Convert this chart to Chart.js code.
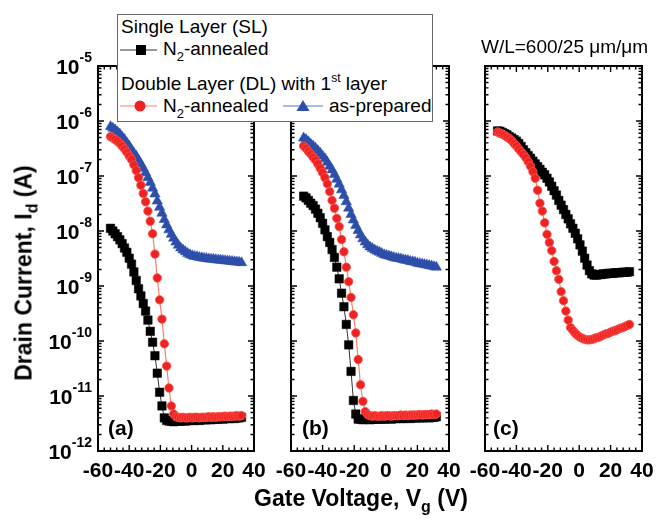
<!DOCTYPE html>
<html><head><meta charset="utf-8">
<script src="https://cdn.jsdelivr.net/npm/chart.js@4.4.1/dist/chart.umd.min.js"></script>
<style>
html,body{margin:0;padding:0;background:#fff;}
#wrap{position:relative;width:656px;height:521px;overflow:hidden;font-family:"Liberation Sans",Arial,sans-serif;color:#000;}
canvas{position:absolute;left:0;top:0;}
.t{position:absolute;white-space:nowrap;font-size:19px;line-height:19px;}
.sub{position:relative;font-size:13px;top:6px;}
.sup{position:relative;font-size:12px;top:-8px;}
.b{position:absolute;white-space:nowrap;font-weight:bold;font-size:23px;line-height:23px;}
.bs{position:relative;font-size:16px;top:6px;}
.pl{position:absolute;white-space:nowrap;font-weight:bold;font-size:21px;line-height:21px;}
#legbox{position:absolute;left:117px;top:14px;width:316px;height:108px;box-sizing:border-box;border:1px solid #666;background:#fff;}
</style></head><body>
<div id="wrap">
<canvas id="ca" width="656" height="521"></canvas>
<canvas id="cb" width="656" height="521"></canvas>
<canvas id="cc" width="656" height="521"></canvas>
<div id="legbox"></div>
<svg style="position:absolute;left:117px;top:14px" width="316" height="108">
  <line x1="3" y1="36" x2="40" y2="36" stroke="#333" stroke-width="1"/>
  <rect x="19" y="31" width="10" height="10" fill="#000"/>
  <line x1="3" y1="92" x2="40" y2="92" stroke="#f58070" stroke-width="1.2"/>
  <circle cx="23" cy="92" r="5.5" fill="#ee2222"/>
  <line x1="166" y1="92" x2="206" y2="92" stroke="#4a78d0" stroke-width="1.2"/>
  <polygon points="186,86 192.5,97 179.5,97" fill="#2d4faa"/>
</svg>
<div class="t" style="left:121px;top:17.4px">Single Layer (SL)</div>
<div class="t" style="left:163px;top:38.9px">N<span class="sub">2</span>-annealed</div>
<div class="t" style="left:121px;top:73.9px">Double Layer (DL) with 1<span class="sup">st</span> layer</div>
<div class="t" style="left:163px;top:95.6px">N<span class="sub">2</span>-annealed</div>
<div class="t" style="left:329px;top:95.6px">as-prepared</div>
<div class="t" style="left:481px;top:37.4px">W/L=600/25 μm/μm</div>
<div class="pl" style="left:108px;top:416.6px">(a)</div>
<div class="pl" style="left:302px;top:416.6px">(b)</div>
<div class="pl" style="left:493px;top:416.6px">(c)</div>
<div class="b" style="left:361px;top:498.5px;transform:translate(-50%,-50%)">Gate Voltage, V<span class="bs">g</span> (V)</div>
<div class="b" style="left:24.5px;top:273px;transform:translate(-50%,-50%) rotate(-90deg)">Drain Current, I<span class="bs">d</span> (A)</div>
</div>
<script>
// Gate voltage sweep (V)
const vg = [-52,-50.5,-49,-47.5,-46,-44.5,-43,-41.5,-40,-38.5,-37,-35.5,-34,-32.5,-31,-29.5,-28,-26.5,-25,-23.5,-22,-20.5,-19,-17.5,-16,-14.5,-13,-11.5,-10,-8.5,-7,-5.5,-4,-2.5,-1,0.5,2,3.5,5,6.5,8,9.5,11,12.5,14,15.5,17,18.5,20,21.5,23,24.5,26,27.5,29,30.5,32];

// Panel (a)
const aSL = [1.12e-8,1.0e-8,8.9e-9,7.9e-9,6.9e-9,5.9e-9,4.9e-9,4.1e-9,3.2e-9,2.5e-9,1.8e-9,1.26e-9,8.9e-10,6.6e-10,4.8e-10,3.5e-10,2.4e-10,1.5e-10,9.5e-11,5.4e-11,2.6e-11,1.17e-11,6.6e-12,4.0e-12,3.6e-12,
  3.5e-12,3.5e-12,3.4e-12,3.5e-12,3.5e-12,3.5e-12,3.6e-12,3.5e-12,3.6e-12,3.6e-12,3.6e-12,3.6e-12,3.7e-12,3.6e-12,3.7e-12,3.7e-12,3.7e-12,3.8e-12,3.7e-12,3.8e-12,3.8e-12,3.8e-12,3.9e-12,3.8e-12,3.9e-12,3.9e-12,3.9e-12,4.0e-12,3.9e-12,4.0e-12,4.0e-12,4.1e-12];
const aDLn = [5.2e-7,4.9e-7,4.6e-7,4.3e-7,3.9e-7,3.5e-7,3.1e-7,2.7e-7,2.3e-7,2.0e-7,1.6e-7,1.26e-7,9.3e-8,6.8e-8,4.8e-8,3.4e-8,2.3e-8,1.5e-8,8.9e-9,3.8e-9,1.4e-9,5.6e-10,2.5e-10,8.9e-11,3.5e-11,1.4e-11,6.6e-12,4.7e-12,4.2e-12,
  4.1e-12,4.0e-12,4.1e-12,4.0e-12,4.0e-12,4.1e-12,4.0e-12,4.1e-12,4.1e-12,4.0e-12,4.1e-12,4.1e-12,4.1e-12,4.2e-12,4.1e-12,4.2e-12,4.1e-12,4.2e-12,4.2e-12,4.2e-12,4.3e-12,4.2e-12,4.3e-12,4.3e-12,4.3e-12,4.4e-12,4.3e-12,4.4e-12];
const aDLp = [7.9e-7,7.4e-7,6.9e-7,6.3e-7,5.8e-7,5.1e-7,4.6e-7,4.0e-7,3.5e-7,3.0e-7,2.6e-7,2.3e-7,1.95e-7,1.66e-7,1.38e-7,1.15e-7,9.3e-8,7.6e-8,6.0e-8,4.7e-8,3.5e-8,2.7e-8,2.1e-8,1.62e-8,1.29e-8,1.05e-8,8.7e-9,7.4e-9,6.3e-9,5.5e-9,4.9e-9,4.5e-9,4.2e-9,3.9e-9,3.7e-9,3.55e-9,3.45e-9,3.4e-9,3.3e-9,3.25e-9,3.2e-9,3.15e-9,3.1e-9,3.08e-9,3.05e-9,3.0e-9,2.97e-9,2.95e-9,2.9e-9,2.88e-9,2.85e-9,2.82e-9,2.78e-9,2.75e-9,2.72e-9,2.7e-9,2.65e-9];

// Panel (b)
const bSL = [4.3e-8,4.0e-8,3.6e-8,3.2e-8,2.9e-8,2.5e-8,2.1e-8,1.74e-8,1.38e-8,1.05e-8,7.9e-9,6.2e-9,4.6e-9,3.3e-9,2.2e-9,1.35e-9,7.4e-10,4.2e-10,2.0e-10,8.5e-11,2.8e-11,8.3e-12,4.7e-12,3.8e-12,
  3.8e-12,3.7e-12,3.8e-12,3.8e-12,3.7e-12,3.8e-12,3.8e-12,3.8e-12,3.9e-12,3.8e-12,3.8e-12,3.9e-12,3.9e-12,3.8e-12,3.9e-12,3.9e-12,4.0e-12,3.9e-12,3.9e-12,4.0e-12,4.0e-12,3.9e-12,4.0e-12,4.0e-12,4.1e-12,4.0e-12,4.0e-12,4.1e-12,4.1e-12,4.0e-12,4.1e-12,4.1e-12,4.2e-12];
const bDLn = [3.5e-7,3.2e-7,2.8e-7,2.5e-7,2.2e-7,1.95e-7,1.66e-7,1.38e-7,1.15e-7,9.3e-8,7.2e-8,5.2e-8,3.6e-8,2.6e-8,1.7e-8,1.2e-8,7.0e-9,4.2e-9,2.2e-9,1.2e-9,6.2e-10,3.0e-10,1.4e-10,4.6e-11,1.6e-11,8.0e-12,5.2e-12,4.6e-12,
  4.4e-12,4.3e-12,4.4e-12,4.3e-12,4.3e-12,4.4e-12,4.3e-12,4.4e-12,4.4e-12,4.3e-12,4.4e-12,4.4e-12,4.4e-12,4.5e-12,4.4e-12,4.5e-12,4.4e-12,4.5e-12,4.5e-12,4.5e-12,4.5e-12,4.6e-12,4.5e-12,4.6e-12,4.6e-12,4.6e-12,4.7e-12,4.6e-12,4.7e-12];
const bDLp = [4.9e-7,4.6e-7,4.2e-7,3.8e-7,3.5e-7,3.2e-7,2.9e-7,2.6e-7,2.3e-7,2.05e-7,1.78e-7,1.51e-7,1.29e-7,1.07e-7,8.7e-8,7.1e-8,5.6e-8,4.4e-8,3.4e-8,2.6e-8,2.0e-8,1.58e-8,1.26e-8,1.02e-8,8.5e-9,7.2e-9,6.3e-9,5.6e-9,5.1e-9,4.8e-9,4.5e-9,4.3e-9,4.1e-9,3.9e-9,3.7e-9,3.6e-9,3.5e-9,3.4e-9,3.3e-9,3.2e-9,3.15e-9,3.1e-9,3.0e-9,2.95e-9,2.9e-9,2.8e-9,2.75e-9,2.7e-9,2.6e-9,2.55e-9,2.5e-9,2.45e-9,2.4e-9,2.35e-9,2.3e-9,2.25e-9,2.2e-9];

// Panel (c)
const cSL = [6.6e-7,6.5e-7,6.2e-7,5.9e-7,5.6e-7,5.2e-7,4.9e-7,4.6e-7,4.3e-7,3.9e-7,3.45e-7,3.0e-7,2.65e-7,2.35e-7,2.1e-7,1.86e-7,1.66e-7,1.48e-7,1.32e-7,1.17e-7,1.05e-7,9.1e-8,7.8e-8,6.5e-8,5.4e-8,4.5e-8,3.6e-8,2.95e-8,2.45e-8,2.0e-8,1.66e-8,1.35e-8,1.12e-8,9.1e-9,7.2e-9,5.6e-9,4.3e-9,3.2e-9,2.4e-9,1.9e-9,1.66e-9,1.58e-9,1.58e-9,1.62e-9,1.62e-9,1.66e-9,1.66e-9,1.70e-9,1.70e-9,1.70e-9,1.74e-9,1.74e-9,1.74e-9,1.78e-9,1.78e-9,1.78e-9,1.82e-9];
const cDLn = [6.3e-7,6.0e-7,5.8e-7,5.5e-7,5.1e-7,4.8e-7,4.4e-7,3.9e-7,3.5e-7,3.1e-7,2.75e-7,2.45e-7,2.15e-7,1.82e-7,1.51e-7,1.2e-7,9.1e-8,5.5e-8,3.2e-8,2.3e-8,1.41e-8,8.7e-9,6.2e-9,4.4e-9,2.8e-9,1.9e-9,1.32e-9,7.9e-10,5.4e-10,3.5e-10,2.4e-10,1.75e-10,1.55e-10,1.38e-10,1.26e-10,1.17e-10,1.12e-10,1.07e-10,1.05e-10,1.05e-10,1.07e-10,1.10e-10,1.15e-10,1.17e-10,1.23e-10,1.29e-10,1.35e-10,1.38e-10,1.45e-10,1.51e-10,1.55e-10,1.62e-10,1.70e-10,1.74e-10,1.82e-10,1.91e-10,2.0e-10];

// Axis ticks
const xTickLabels = [-60,-40,-20,0,20,40];
const yTickExps = [-12,-11,-10,-9,-8,-7,-6,-5];

const FONT = '"Liberation Sans", Arial, sans-serif';

const frameTicks = {
  id: 'frameTicks',
  afterDatasetsDraw(chart, args, o) {
    const ctx = chart.ctx, a = chart.chartArea, xs = chart.scales.x, ys = chart.scales.y;
    ctx.save();
    ctx.strokeStyle = '#000';
    ctx.lineWidth = 1.4;
    ctx.beginPath();
    const x0 = xTickLabels[0], x1 = xTickLabels[xTickLabels.length - 1];
    for (let v = x0; v <= x1 + 1e-9; v += 4) {
      const px = xs.getPixelForValue(v);
      const len = Math.abs(v % 20) < 1e-9 ? 6 : 3.5;
      ctx.moveTo(px, a.bottom); ctx.lineTo(px, a.bottom - len);
      ctx.moveTo(px, a.top); ctx.lineTo(px, a.top + len);
    }
    yTickExps.forEach((e, k) => {
      const last = k === yTickExps.length - 1;
      for (let m = 1; m <= 9; m++) {
        if (last && m > 1) break;
        const py = ys.getPixelForValue(m * Math.pow(10, e));
        const len = m === 1 ? 6 : 3.5;
        ctx.moveTo(a.left, py); ctx.lineTo(a.left + len, py);
        ctx.moveTo(a.right, py); ctx.lineTo(a.right - len, py);
      }
    });
    ctx.stroke();
    ctx.lineWidth = 2;
    ctx.strokeRect(a.left, a.top, a.right - a.left, a.bottom - a.top);
    ctx.fillStyle = '#000';
    ctx.textBaseline = 'alphabetic';
    ctx.font = 'bold 21px ' + FONT;
    ctx.textAlign = 'center';
    xTickLabels.forEach(v => ctx.fillText(String(v), xs.getPixelForValue(v), a.bottom + 25.5));
    if (o && o.yLabels) {
      ctx.textAlign = 'left';
      yTickExps.forEach(e => {
        const py = ys.getPixelForValue(Math.pow(10, e));
        ctx.font = 'bold 21px ' + FONT;
        const w1 = ctx.measureText('10').width;
        ctx.font = 'bold 14px ' + FONT;
        const ex = String(e);
        const w2 = ctx.measureText(ex).width;
        const sx = a.left - 6 - w1 - w2;
        ctx.font = 'bold 21px ' + FONT;
        ctx.fillText('10', sx, py + 7.5);
        ctx.font = 'bold 14px ' + FONT;
        ctx.fillText(ex, sx + w1, py - 4);
      });
    }
    ctx.restore();
  }
};

const pts = arr => vg.map((v, i) => ({ x: v, y: arr[i] }));
const sq = arr => ({ data: pts(arr), borderColor: '#333', borderWidth: 1, pointStyle: 'rect', pointRadius: 6,
  pointBackgroundColor: '#000', pointBorderColor: '#000', pointBorderWidth: 0.5, tension: 0 });
const ci = arr => ({ data: pts(arr), borderColor: '#f58070', borderWidth: 1.2, pointStyle: 'circle', pointRadius: 4.2,
  pointBackgroundColor: '#ee2222', pointBorderColor: 'rgba(250,80,70,0.85)', pointBorderWidth: 1, tension: 0 });
const tr = arr => ({ data: pts(arr), borderColor: '#4a78d0', borderWidth: 1, pointStyle: 'triangle', pointRadius: 6,
  pointBackgroundColor: '#2d4faa', pointBorderColor: '#2d4faa', pointBorderWidth: 0.5, tension: 0 });

function makeChart(id, pad, sets, showY) {
  return new Chart(document.getElementById(id), {
    type: 'line',
    data: { datasets: sets },
    options: {
      responsive: false, animation: false, devicePixelRatio: 1, events: [],
      layout: { padding: pad },
      scales: {
        x: { type: 'linear', min: -60, max: 40, display: false },
        y: { type: 'logarithmic', min: 1e-12, max: 1e-5, display: false }
      },
      plugins: { legend: { display: false }, tooltip: { enabled: false }, frameTicks: { yLabels: showY } }
    },
    plugins: [frameTicks]
  });
}

makeChart('ca', { left: 98, right: 656 - 254, top: 66, bottom: 521 - 451 }, [ci(aDLn), sq(aSL), tr(aDLp)], true);
makeChart('cb', { left: 291, right: 656 - 449, top: 66, bottom: 521 - 451 }, [ci(bDLn), sq(bSL), tr(bDLp)], false);
makeChart('cc', { left: 485, right: 656 - 642, top: 66, bottom: 521 - 451 }, [ci(cDLn), sq(cSL)], false);
</script>
</body></html>
